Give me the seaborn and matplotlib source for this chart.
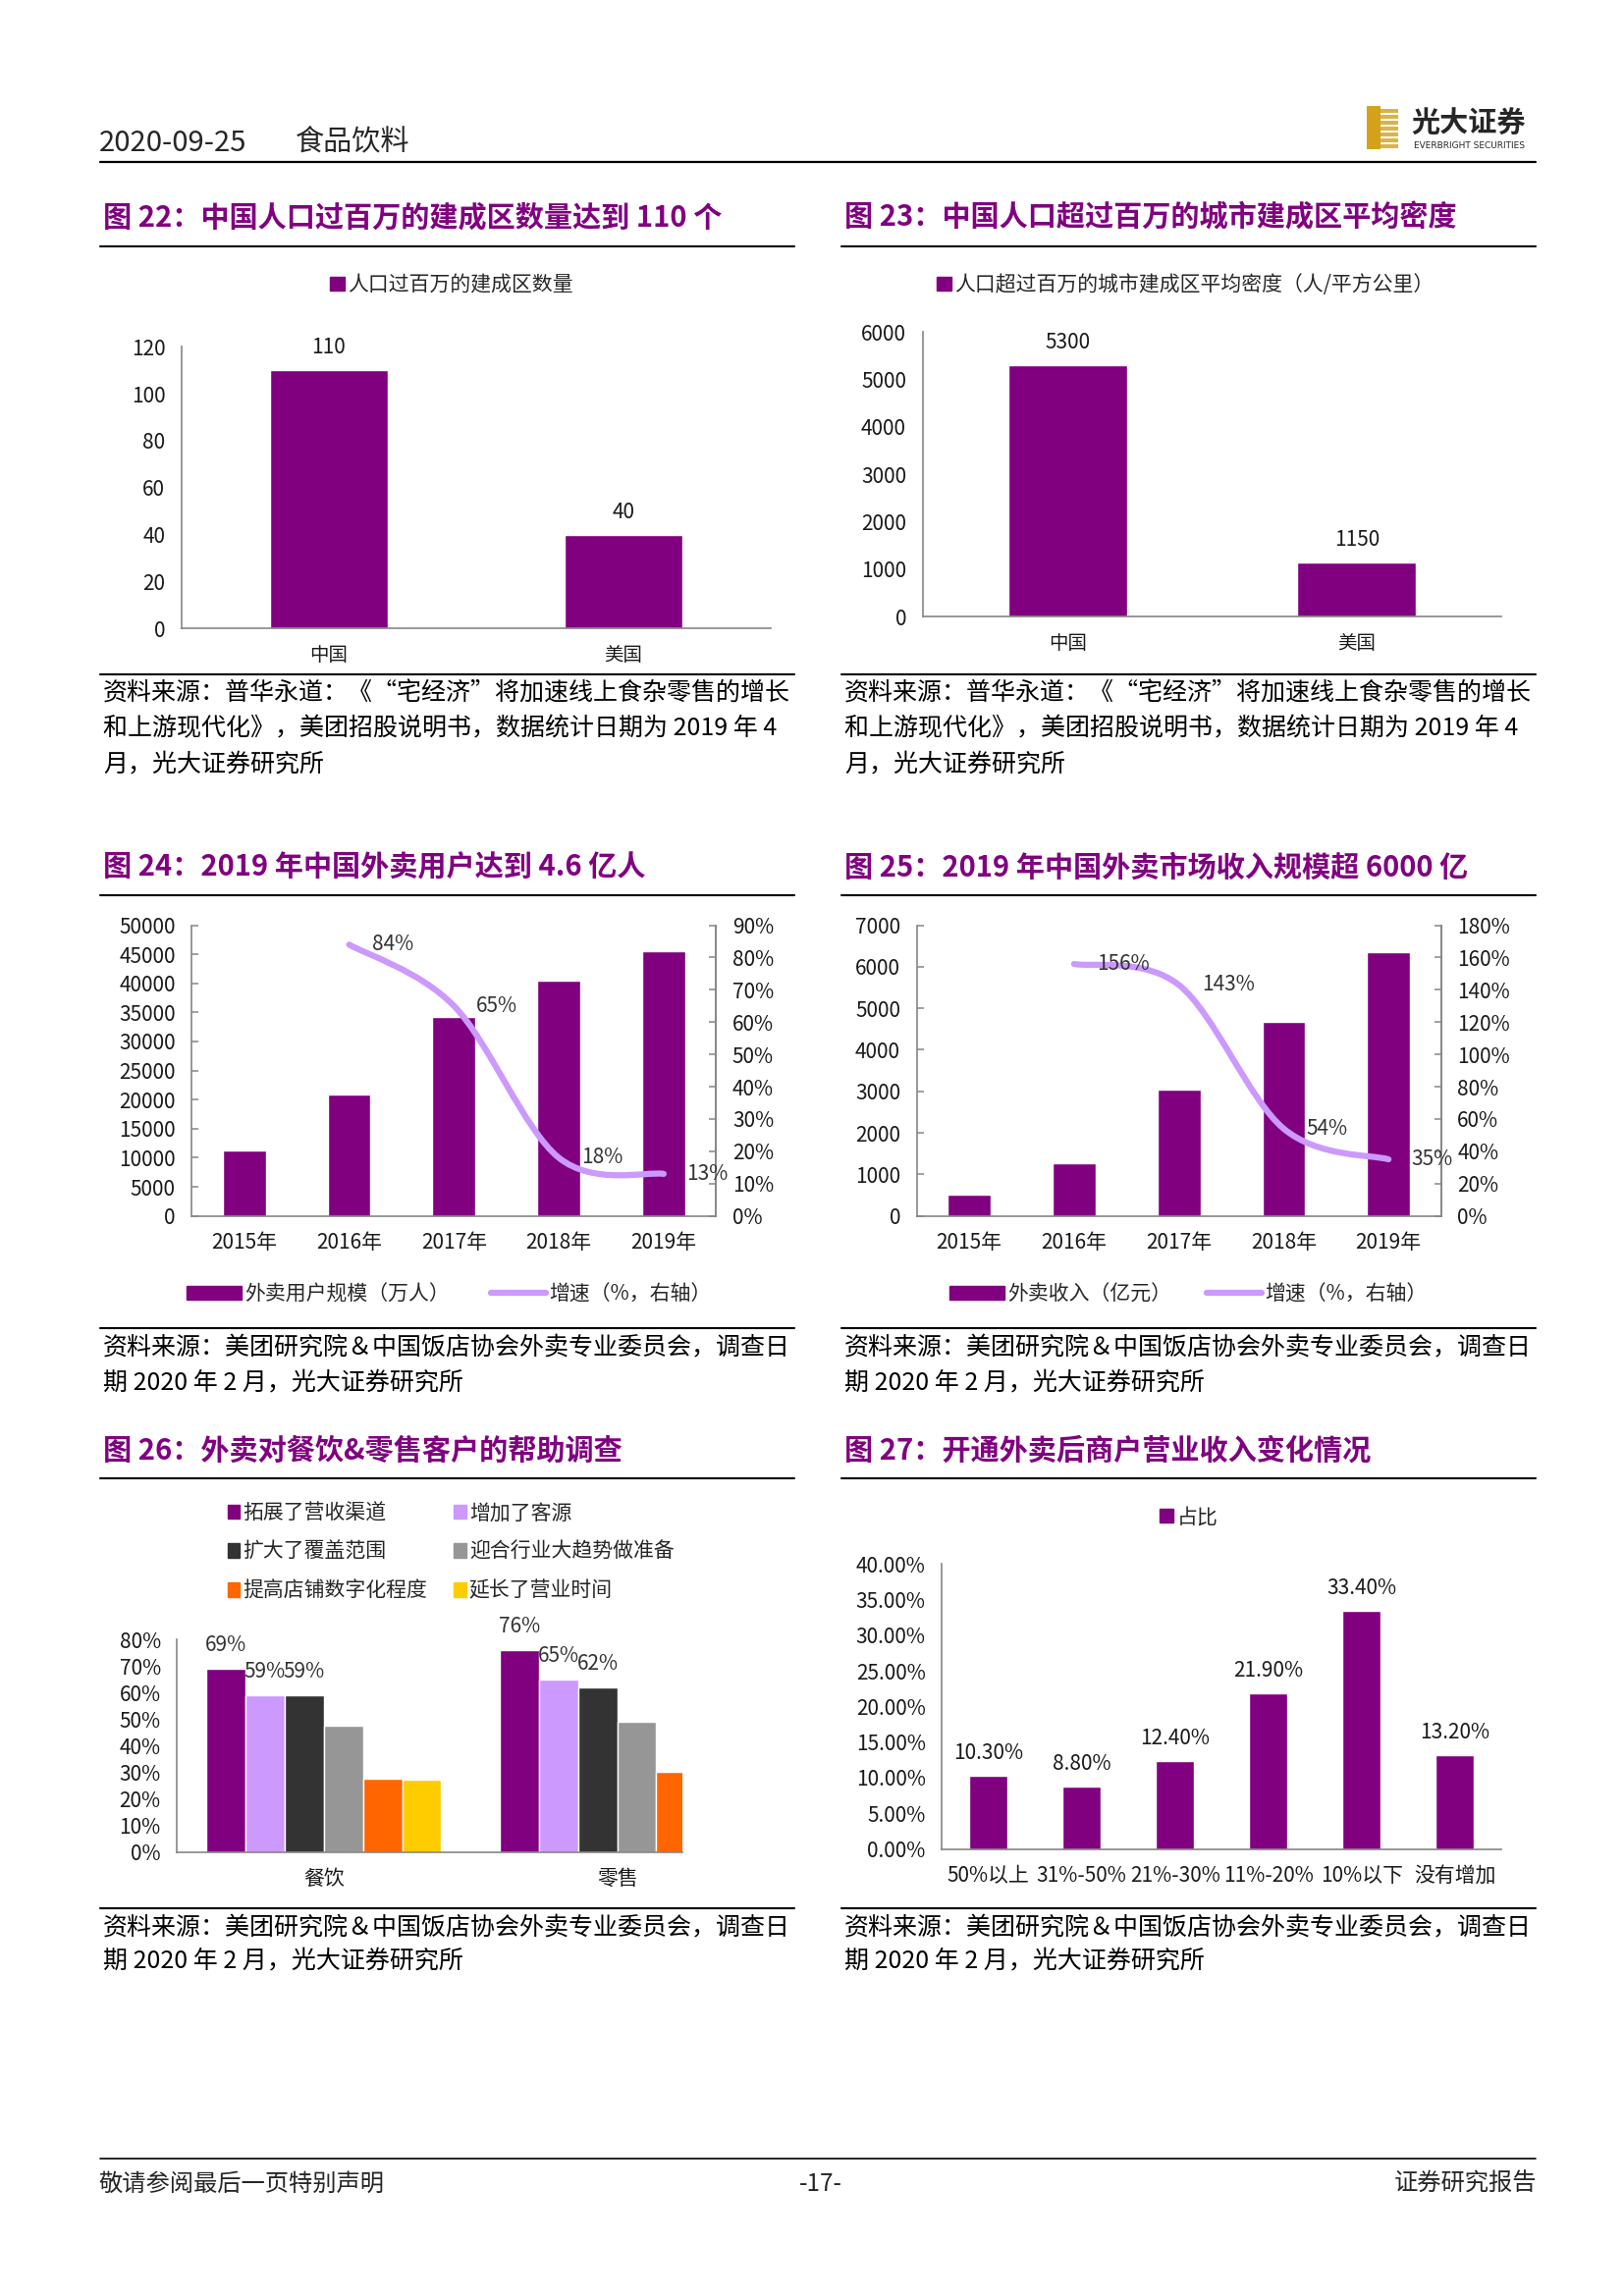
import matplotlib
matplotlib.use("Agg")
import matplotlib.pyplot as plt
from matplotlib.lines import Line2D
from matplotlib.patches import Patch, Rectangle, PathPatch
from matplotlib.path import Path
from matplotlib.ticker import MultipleLocator, FuncFormatter
import numpy as np
import pandas as pd
import seaborn as sns

# ---- data ----
CITY_COUNTRIES = ['中国', '美国']
CITY_COUNT = [110, 40]
CITY_DENSITY = [5300, 1150]

YEARS = ['2015年', '2016年', '2017年', '2018年', '2019年']
USERS = [11300, 20800, 34300, 40500, 45600]
USER_GROWTH_YEARS = ['2016年', '2017年', '2018年', '2019年']
USER_GROWTH = [84, 65, 18, 13]

REVENUE = [500, 1260, 3030, 4670, 6350]
REVENUE_GROWTH_YEARS = ['2016年', '2017年', '2018年', '2019年']
REVENUE_GROWTH = [156, 143, 54, 35]

SURVEY_GROUPS = ['餐饮', '零售']
SURVEY_ITEMS = ['拓展了营收渠道', '增加了客源', '扩大了覆盖范围',
                '迎合行业大趋势做准备', '提高店铺数字化程度', '延长了营业时间']
SURVEY_CATERING = [69, 59, 59, 47.5, 27.5, 27]
SURVEY_RETAIL = [76, 65, 62, 49, 30, np.nan]

INCOME_BINS = ['50%以上', '31%-50%', '21%-30%', '11%-20%', '10%以下', '没有增加']
INCOME_SHARE = [10.30, 8.80, 12.40, 21.90, 33.40, 13.20]

# ---- style ----
PURPLE = '#800080'
LAVENDER = '#CC99FF'
SURVEY_COLORS = ['#800080', '#CC99FF', '#333333', '#969696', '#FF6600', '#FFCC00']
GRAY = '#868686'
TXT = '#1a1a1a'

sns.set_style('white')
plt.rcParams['font.family'] = ['Noto Sans CJK SC', 'DejaVu Sans']
plt.rcParams['axes.unicode_minus'] = False

fig = plt.figure(figsize=(16.54, 23.39), dpi=100)

# layout grid in page units of the reference (1100 x 1556)
W, H = 1100, 1556


def fx(x):
    return x / W


def fy(y):
    return 1 - y / H


def rect(l, r, t, b):
    return [fx(l), fy(b), fx(r) - fx(l), fy(t) - fy(b)]


def hline(x0, x1, y, lw=1.5, color='black'):
    fig.add_artist(Line2D([fx(x0), fx(x1)], [fy(y), fy(y)],
                          transform=fig.transFigure, color=color, lw=lw))


def add_title(x, y, text):
    fig.text(fx(x), fy(y), text, color=PURPLE, fontsize=21,
             fontweight='bold', ha='left', va='center')


def add_source(x, ys, lines):
    for y, t in zip(ys, lines):
        fig.text(fx(x), fy(y), t, fontsize=18, color='black',
                 ha='left', va='center')


def style_axes(ax):
    for s in ['top', 'right']:
        ax.spines[s].set_visible(False)
    for s in ['left', 'bottom']:
        ax.spines[s].set_color(GRAY)
        ax.spines[s].set_linewidth(1.2)
    ax.set_xlabel('')
    ax.set_ylabel('')
    ax.tick_params(axis='y', length=5, direction='in', color=GRAY, width=1.1,
                   pad=12, labelsize=15, labelcolor=TXT)
    ax.tick_params(axis='x', which='major', length=0, pad=12,
                   labelsize=15, labelcolor=TXT)
    ax.tick_params(axis='x', which='minor', length=5, direction='in',
                   color=GRAY, width=1.1)
    n = len(ax.get_xticks())
    ax.set_xticks(np.arange(n) + 0.5, minor=True)
    ax.grid(False)


def smooth_path(xs, ys):
    # Excel style smoothed line: cubic bezier through the data points
    pts = list(zip(xs, ys))
    n = len(pts)
    verts = [pts[0]]
    codes = [Path.MOVETO]
    for i in range(n - 1):
        p0 = pts[i - 1] if i > 0 else pts[i]
        p1 = pts[i]
        p2 = pts[i + 1]
        p3 = pts[i + 2] if i + 2 < n else pts[i + 1]
        c1 = (p1[0] + (p2[0] - p0[0]) / 6, p1[1] + (p2[1] - p0[1]) / 6)
        c2 = (p2[0] - (p3[0] - p1[0]) / 6, p2[1] - (p3[1] - p1[1]) / 6)
        verts += [c1, c2, p2]
        codes += [Path.CURVE4] * 3
    return Path(verts, codes)


def top_labels(ax, xs, vals, fmt):
    for x, v in zip(xs, vals):
        ax.annotate(fmt(v), (x, v), xytext=(0, 23), textcoords='offset pixels',
                    ha='center', va='center', fontsize=15, color=TXT)


def square_legend(ax, label, cx, cy):
    ax.legend(handles=[Patch(color=PURPLE, label=label)], loc='center',
              bbox_to_anchor=(fx(cx), fy(cy)), bbox_transform=fig.transFigure,
              frameon=False, fontsize=15, handlelength=0.7, handleheight=0.7,
              handletextpad=0.15, borderpad=0)


# ---- page header ----
fig.text(fx(67), fy(97), '2020-09-25', fontsize=21, ha='left', va='center')
fig.text(fx(200), fy(97), '食品饮料', fontsize=21, ha='left', va='center')
hline(68, 1040, 110, lw=1.6)
fig.add_artist(Rectangle((fx(926), fy(101)), fx(9), fy(72) - fy(101),
                         transform=fig.transFigure, color='#D4A21A', lw=0))
for k in range(7):
    yy = 74 + k * 4
    fig.add_artist(Rectangle((fx(935), fy(yy + 2.2)), fx(12), fy(yy) - fy(yy + 2.2),
                             transform=fig.transFigure, color='#D9B44A', lw=0))
fig.text(fx(995), fy(84), '光大证券', fontsize=21, fontweight='bold',
         ha='center', va='center')
fig.text(fx(995), fy(99), 'EVERBRIGHT SECURITIES', fontsize=6.5,
         ha='center', va='center', family='DejaVu Sans')

SRC_A = ['资料来源：普华永道：《“宅经济”将加速线上食杂零售的增长',
         '和上游现代化》，美团招股说明书，数据统计日期为 2019 年 4',
         '月，光大证券研究所']
SRC_B = ['资料来源：美团研究院＆中国饭店协会外卖专业委员会，调查日',
         '期 2020 年 2 月，光大证券研究所']

# ---- 图22 ----
add_title(70, 147, '图 22：中国人口过百万的建成区数量达到 110 个')
hline(68, 538, 167)
ax = fig.add_axes(rect(123, 522, 235, 426))
sns.barplot(x=CITY_COUNTRIES, y=CITY_COUNT, color=PURPLE, saturation=1,
            width=0.4, ax=ax)
style_axes(ax)
ax.set_ylim(0, 120)
ax.yaxis.set_major_locator(MultipleLocator(20))
ax.tick_params(axis='x', which='major', labelsize=14)
top_labels(ax, range(len(CITY_COUNT)), CITY_COUNT, lambda v: f'{v}')
square_legend(ax, '人口过百万的建成区数量', 306, 193)
hline(68, 538, 457)
add_source(70, [470, 494, 518], SRC_A)

# ---- 图23 ----
add_title(572, 147, '图 23：中国人口超过百万的城市建成区平均密度')
hline(570, 1040, 167)
ax = fig.add_axes(rect(625, 1017, 225, 418))
sns.barplot(x=CITY_COUNTRIES, y=CITY_DENSITY, color=PURPLE, saturation=1,
            width=0.41, ax=ax)
style_axes(ax)
ax.set_ylim(0, 6000)
ax.yaxis.set_major_locator(MultipleLocator(1000))
ax.tick_params(axis='x', which='major', labelsize=14)
top_labels(ax, range(len(CITY_DENSITY)), CITY_DENSITY, lambda v: f'{v}')
square_legend(ax, '人口超过百万的城市建成区平均密度（人/平方公里）', 803, 193)
hline(570, 1040, 457)
add_source(572, [470, 494, 518], SRC_A)


# ---- 图24 / 图25 ----
def combo_chart(box, bars, ymax, ystep, g_years, growth, gmax, gstep,
                bar_label, legend_cx, legend_gap):
    ax = fig.add_axes(rect(*box))
    sns.barplot(x=YEARS, y=bars, color=PURPLE, saturation=1, width=0.41, ax=ax)
    style_axes(ax)
    ax.spines['right'].set_visible(True)
    ax.spines['right'].set_color(GRAY)
    ax.spines['right'].set_linewidth(1.2)
    ax.set_ylim(0, ymax)
    ax.yaxis.set_major_locator(MultipleLocator(ystep))
    ax2 = ax.twinx()
    for s in ['top', 'left', 'bottom']:
        ax2.spines[s].set_visible(False)
    ax2.spines['right'].set_color(GRAY)
    ax2.spines['right'].set_linewidth(1.2)
    ax2.set_ylim(0, gmax)
    ax2.yaxis.set_major_locator(MultipleLocator(gstep))
    ax2.yaxis.set_major_formatter(FuncFormatter(lambda v, p: f'{v:.0f}%'))
    ax2.tick_params(axis='y', length=5, direction='in', color=GRAY, width=1.1,
                    pad=12, labelsize=15, labelcolor=TXT)
    ax2.grid(False)
    gx = [YEARS.index(y) for y in g_years]
    ax2.add_patch(PathPatch(smooth_path(gx, growth), facecolor='none',
                            edgecolor=LAVENDER, lw=4.5, capstyle='round',
                            joinstyle='round'))
    for x, v in zip(gx, growth):
        ax2.annotate(f'{v}%', (x, v), xytext=(23, 0), textcoords='offset pixels',
                     ha='left', va='center', fontsize=15, color='#333333')
    handles = [Patch(color=PURPLE, label=bar_label),
               Line2D([], [], color=LAVENDER, lw=4.5, label='增速（%，右轴）')]
    ax.legend(handles=handles, loc='center', ncol=2,
              bbox_to_anchor=(fx(legend_cx), fy(877)),
              bbox_transform=fig.transFigure, frameon=False, fontsize=15,
              handlelength=2.7, handleheight=0.7, handletextpad=0.15,
              columnspacing=legend_gap, borderpad=0)
    return ax


add_title(70, 588, '图 24：2019 年中国外卖用户达到 4.6 亿人')
hline(68, 538, 607)
combo_chart((130, 485, 627, 824), USERS, 50000, 5000, USER_GROWTH_YEARS,
            USER_GROWTH, 90, 10, '外卖用户规模（万人）', 304, 2.0)
hline(68, 538, 900)
add_source(70, [913, 937], SRC_B)

add_title(572, 588, '图 25：2019 年中国外卖市场收入规模超 6000 亿')
hline(570, 1040, 607)
combo_chart((621, 976, 627, 824), REVENUE, 7000, 1000, REVENUE_GROWTH_YEARS,
            REVENUE_GROWTH, 180, 20, '外卖收入（亿元）', 805, 1.7)
hline(570, 1040, 900)
add_source(572, [913, 937], SRC_B)

# ---- 图26 ----
add_title(70, 983, '图 26：外卖对餐饮&零售客户的帮助调查')
hline(68, 538, 1002)
ax = fig.add_axes(rect(120, 462, 1111, 1255))
survey = pd.DataFrame({
    'group': np.repeat(SURVEY_GROUPS, len(SURVEY_ITEMS)),
    'item': SURVEY_ITEMS * len(SURVEY_GROUPS),
    'value': SURVEY_CATERING + SURVEY_RETAIL,
})
sns.barplot(data=survey, x='group', y='value', hue='item', hue_order=SURVEY_ITEMS,
            palette=SURVEY_COLORS, saturation=1, width=0.8, ax=ax, legend=False)
style_axes(ax)
ax.set_xlim(-0.5, 1.221)
ax.set_ylim(0, 80)
ax.yaxis.set_major_locator(MultipleLocator(10))
ax.yaxis.set_major_formatter(FuncFormatter(lambda v, p: f'{v:.0f}%'))
ax.set_xticks([0.5], minor=True)
for cont in ax.containers[:3]:
    for bar in cont:
        h = bar.get_height()
        if np.isfinite(h):
            ax.annotate(f'{h:.0f}%', (bar.get_x() + bar.get_width() / 2, h),
                        xytext=(0, 24), textcoords='offset pixels', ha='center',
                        va='center', fontsize=15, color='#333333')
handles = [Patch(color=c, label=l) for c, l in zip(SURVEY_COLORS, SURVEY_ITEMS)]
order = [0, 2, 4, 1, 3, 5]  # fill the two legend columns row by row
ax.legend(handles=[handles[i] for i in order], loc='upper left', ncol=2,
          bbox_to_anchor=(fx(154), fy(1018)), bbox_transform=fig.transFigure,
          frameon=False, fontsize=15, handlelength=0.6, handleheight=0.7,
          handletextpad=0.15, columnspacing=1.3, labelspacing=0.85,
          borderpad=0, borderaxespad=0)
hline(68, 538, 1293)
add_source(70, [1306, 1329], SRC_B)

# ---- 图27 ----
add_title(572, 983, '图 27：开通外卖后商户营业收入变化情况')
hline(570, 1040, 1002)
ax = fig.add_axes(rect(638, 1017, 1060, 1253))
sns.barplot(x=INCOME_BINS, y=INCOME_SHARE, color=PURPLE, saturation=1,
            width=0.41, ax=ax)
style_axes(ax)
ax.set_ylim(0, 40)
ax.yaxis.set_major_locator(MultipleLocator(5))
ax.yaxis.set_major_formatter(FuncFormatter(lambda v, p: f'{v:.2f}%'))
top_labels(ax, range(len(INCOME_SHARE)), INCOME_SHARE, lambda v: f'{v:.2f}%')
square_legend(ax, '占比', 805, 1028)
hline(570, 1040, 1293)
add_source(572, [1306, 1329], SRC_B)

# ---- page footer ----
hline(68, 1040, 1463, lw=1.2)
fig.text(fx(67), fy(1480), '敬请参阅最后一页特别声明', fontsize=17.5, ha='left', va='center')
fig.text(fx(556), fy(1480), '-17-', fontsize=17.5, ha='center', va='center')
fig.text(fx(1041), fy(1480), '证券研究报告', fontsize=17.5, ha='right', va='center')

fig.savefig('out.png', dpi=100, facecolor='white')
